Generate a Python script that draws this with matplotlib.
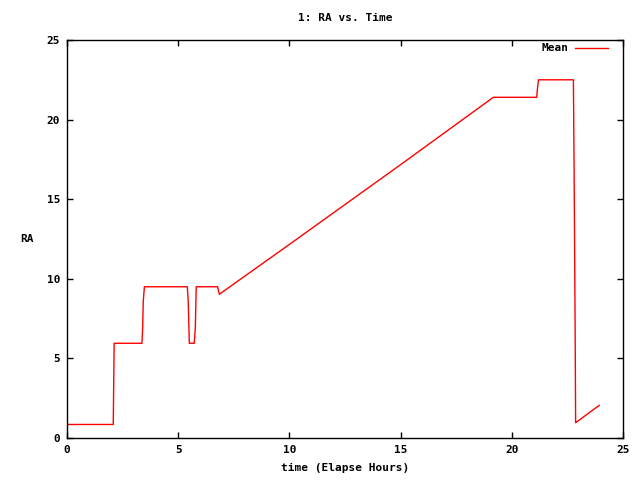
import matplotlib
matplotlib.use("Agg")
import matplotlib.pyplot as plt

# RA track (elapsed hours vs RA)
hours = [0.0, 2.08, 2.10, 2.12, 3.37, 3.40, 3.43, 3.48, 5.41, 5.45, 5.50,
         5.72, 5.77, 5.81, 6.77, 6.85, 10.0, 15.0, 19.17, 21.12, 21.15,
         21.20, 22.77, 22.80, 22.85, 22.87, 23.93]
ra = [0.85, 0.85, 3.45, 5.95, 5.95, 6.85, 8.6, 9.5, 9.5, 8.6, 5.95,
      5.95, 6.9, 9.5, 9.5, 9.03, 12.16, 17.17, 21.4, 21.4, 21.9,
      22.5, 22.5, 17.15, 6.34, 0.96, 2.05]

xticks = [0, 5, 10, 15, 20, 25]
yticks = [0, 5, 10, 15, 20, 25]

font = {"family": "DejaVu Sans Mono", "weight": "bold", "size": 8}
plt.rcParams["font.family"] = "DejaVu Sans Mono"
plt.rcParams["font.weight"] = "bold"
plt.rcParams["font.size"] = 8

fig = plt.figure(figsize=(6.4, 4.8), dpi=100)
ax = fig.add_axes([67 / 640, 42 / 480, 556 / 640, 398 / 480])

ax.plot(hours, ra, color="red", lw=1.0, label="Mean")

ax.set_xlim(0, 25)
ax.set_ylim(0, 25)
ax.set_xticks(xticks)
ax.set_yticks(yticks)
ax.tick_params(direction="in", length=4, width=1, top=True, right=True,
               labelsize=8, pad=5)
for s in ax.spines.values():
    s.set_linewidth(1)

ax.set_title("1: RA vs. Time", fontdict=font, pad=14)
ax.set_xlabel("time (Elapse Hours)", fontdict=font, labelpad=6)
ax.set_ylabel("RA", fontdict=font, rotation=0, labelpad=14, va="center")

ax.legend(loc="upper right", frameon=False, markerfirst=False,
          handlelength=2.9, handletextpad=0.6, borderaxespad=0,
          bbox_to_anchor=(612 / 640, 1 - 39 / 480),
          bbox_transform=fig.transFigure, prop=font)

fig.savefig("out.png", dpi=100)
